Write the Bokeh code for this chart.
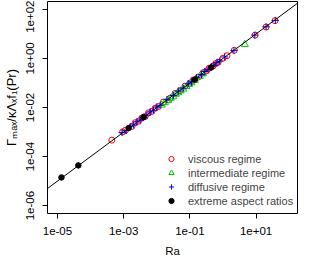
from bokeh.plotting import figure
from bokeh.models import Range1d, FixedTicker, CustomJSTickFormatter, Slope
from bokeh.embed import file_html
from bokeh.resources import INLINE

# ---- data ----
ra_viscous = [4.37e-4, 9.33e-4, 1.12e-3, 1.78e-3, 2.24e-3, 2.82e-3, 3.55e-3, 4.47e-3,
              5.62e-3, 7.08e-3, 8.91e-3, 1.12e-2, 1.58e-2, 2.51e-2, 3.55e-2, 5.01e-2,
              7.08e-2, 1.00e-1, 1.26e-1, 1.78e-1, 2.51e-1, 3.16e-1, 3.80e-1, 5.01e-1,
              6.03e-1, 7.08e-1, 1.00, 1.32, 2.19, 9.33, 2.00e1, 3.72e1]
g_viscous = [4.68e-4, 1.02e-3, 1.17e-3, 1.70e-3, 2.40e-3, 2.75e-3, 3.72e-3, 4.27e-3,
             6.03e-3, 6.92e-3, 9.33e-3, 1.10e-2, 1.66e-2, 2.40e-2, 3.72e-2, 4.90e-2,
             7.41e-2, 9.77e-2, 1.32e-1, 1.74e-1, 2.63e-1, 3.09e-1, 3.98e-1, 4.90e-1,
             6.17e-1, 6.92e-1, 1.02, 1.29, 2.14, 8.91, 1.91e1, 3.47e1]

ra_intermediate = [1.41e-2, 1.78e-2, 2.24e-2, 2.63e-2, 3.16e-2, 3.80e-2, 4.47e-2, 5.25e-2,
                   6.31e-2, 7.94e-2, 9.55e-2, 1.12e-1, 1.41e-1, 2.00e-1, 2.51e-1, 4.57]
g_intermediate = [1.26e-2, 1.62e-2, 1.95e-2, 2.40e-2, 2.75e-2, 3.47e-2, 3.98e-2, 4.79e-2,
                  5.62e-2, 7.24e-2, 8.71e-2, 1.02e-1, 1.29e-1, 1.86e-1, 2.34e-1, 3.72]

ra_diffusive = [8.91e-4, 1.20e-3, 1.58e-3, 2.00e-3, 2.51e-3, 3.16e-3, 3.80e-3, 5.01e-3,
                6.31e-3, 7.94e-3, 1.00e-2, 1.26e-2, 2.00e-2, 3.16e-2, 4.47e-2, 6.31e-2,
                8.91e-2, 1.12e-1, 1.58e-1, 2.24e-1, 2.82e-1, 3.55e-1, 4.47e-1, 5.25e-1,
                6.61e-1, 7.94e-1, 1.12, 2.14, 9.12, 2.00e1, 3.80e1]
g_diffusive = [9.55e-4, 1.15e-3, 1.66e-3, 1.95e-3, 2.63e-3, 3.09e-3, 3.98e-3, 4.90e-3,
               6.61e-3, 7.76e-3, 1.05e-2, 1.23e-2, 2.09e-2, 3.09e-2, 4.68e-2, 6.17e-2,
               9.33e-2, 1.10e-1, 1.66e-1, 2.19e-1, 2.95e-1, 3.47e-1, 4.68e-1, 5.13e-1,
               6.92e-1, 7.76e-1, 1.15, 2.09, 8.91, 1.95e1, 3.55e1]

ra_extreme = [1.32e-5, 4.27e-5, 1.41e-3, 3.98e-3, 1.41e-1, 4.37e-1]
g_extreme = [1.41e-5, 4.37e-5, 1.45e-3, 4.07e-3, 1.38e-1, 4.27e-1]

x_ticks = [1e-5, 1e-3, 1e-1, 1e1]
x_tick_labels = ["1e-05", "1e-03", "1e-01", "1e+01"]
y_ticks = [1e-6, 1e-4, 1e-2, 1e0, 1e2]
y_tick_labels = ["1e-06", "1e-04", "1e-02", "1e+00", "1e+02"]

FONT = "Liberation Sans"
FS = "11.5px"

p = figure(width=298, height=262, x_axis_type="log", y_axis_type="log",
           x_range=Range1d(5.0e-6, 1.78e2), y_range=Range1d(4.79e-7, 2.09e2),
           output_backend="svg", toolbar_location=None,
           min_border_left=47, min_border_bottom=49, min_border_top=1, min_border_right=1)

p.xgrid.visible = False
p.ygrid.visible = False
p.outline_line_color = "black"
p.outline_line_width = 1
p.outline_line_alpha = 1.0
p.background_fill_color = "white"
p.border_fill_color = "white"

code = """
for (let i = 0; i < tvals.length; i++) {
  if (Math.abs(Math.log10(tick) - Math.log10(tvals[i])) < 1e-6) return tlabs[i];
}
return "";
"""
p.xaxis.ticker = FixedTicker(ticks=x_ticks, minor_ticks=[])
p.yaxis.ticker = FixedTicker(ticks=y_ticks, minor_ticks=[])
p.xaxis.formatter = CustomJSTickFormatter(args=dict(tvals=x_ticks, tlabs=x_tick_labels), code=code)
p.yaxis.formatter = CustomJSTickFormatter(args=dict(tvals=y_ticks, tlabs=y_tick_labels), code=code)

for ax in (p.xaxis[0], p.yaxis[0]):
    ax.axis_line_color = None
    ax.major_tick_out = 5
    ax.major_tick_in = 0
    ax.major_tick_line_color = "black"
    ax.minor_tick_line_color = None
    ax.major_label_text_font = FONT
    ax.major_label_text_font_size = FS
    ax.major_label_text_color = "black"
    ax.major_label_standoff = 8
    ax.axis_label_text_font = FONT
    ax.axis_label_text_font_size = FS
    ax.axis_label_text_font_style = "normal"
    ax.axis_label_text_color = "black"

p.xaxis.axis_label = "Ra"
p.xaxis.axis_label_standoff = 7
p.yaxis.axis_label = "Γₘₐₓ/κΛₓf₁(Pr)"
p.yaxis.axis_label_text_font_size = "13px"
p.yaxis.axis_label_standoff = 5
p.yaxis.major_label_orientation = "vertical"

p.add_layout(Slope(gradient=1, y_intercept=0, line_color="black", line_width=1))

p.scatter(ra_viscous, g_viscous, marker="circle", size=6, fill_color=None,
          line_color="#FF0000", line_width=1, legend_label="viscous regime")
p.scatter(ra_intermediate, g_intermediate, marker="triangle", size=7, fill_color=None,
          line_color="#00CD00", line_width=1, legend_label="intermediate regime")
p.scatter(ra_diffusive, g_diffusive, marker="cross", size=7,
          line_color="#0000FF", line_width=1, legend_label="diffusive regime")
p.scatter(ra_extreme, g_extreme, marker="circle", size=5.5, fill_color="black",
          line_color="black", line_width=1, legend_label="extreme aspect ratios")

lg = p.legend[0]
lg.location = (117, 6)
lg.border_line_color = None
lg.background_fill_alpha = 0
lg.padding = 0
lg.margin = 0
lg.spacing = 1
lg.label_text_font = FONT
lg.label_text_font_size = "11px"
lg.label_standoff = 10
lg.glyph_width = 14
lg.glyph_height = 13
lg.label_height = 13

open("out.html", "w").write(file_html(p, INLINE))
